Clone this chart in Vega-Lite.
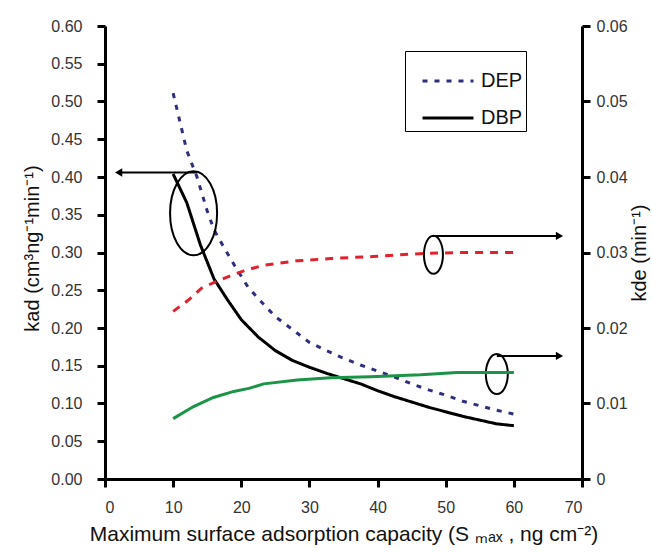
{
  "$schema": "https://vega.github.io/schema/vega-lite/v6.json",
  "width": 477,
  "height": 453,
  "autosize": {"type": "none"},
  "padding": {"left": 105, "top": 26, "right": 70, "bottom": 73},
  "background": "white",
  "config": {
    "view": {"stroke": null},
    "font": "Liberation Sans",
    "axis": {
      "grid": false,
      "domainColor": "black",
      "domainWidth": 3,
      "ticks": true,
      "tickSize": 8,
      "tickWidth": 3,
      "tickColor": "black",
      "labelFont": "Liberation Sans",
      "labelFontSize": 16,
      "labelColor": "#333333",
      "titleFont": "Liberation Sans",
      "titleFontSize": 20,
      "titleFontWeight": "normal",
      "titleColor": "#111111"
    }
  },
  "datasets": {
    "curves": [
      {"s": 10, "v": 0.511, "series": "DEP", "param": "kad"},
      {"s": 12, "v": 0.435, "series": "DEP", "param": "kad"},
      {"s": 13.5, "v": 0.4, "series": "DEP", "param": "kad"},
      {"s": 15, "v": 0.355, "series": "DEP", "param": "kad"},
      {"s": 16, "v": 0.33, "series": "DEP", "param": "kad"},
      {"s": 17.5, "v": 0.306, "series": "DEP", "param": "kad"},
      {"s": 19, "v": 0.283, "series": "DEP", "param": "kad"},
      {"s": 21, "v": 0.254, "series": "DEP", "param": "kad"},
      {"s": 23, "v": 0.234, "series": "DEP", "param": "kad"},
      {"s": 25, "v": 0.215, "series": "DEP", "param": "kad"},
      {"s": 27.5, "v": 0.198, "series": "DEP", "param": "kad"},
      {"s": 30, "v": 0.181, "series": "DEP", "param": "kad"},
      {"s": 32.5, "v": 0.17, "series": "DEP", "param": "kad"},
      {"s": 35, "v": 0.16, "series": "DEP", "param": "kad"},
      {"s": 37.5, "v": 0.151, "series": "DEP", "param": "kad"},
      {"s": 40, "v": 0.143, "series": "DEP", "param": "kad"},
      {"s": 42.5, "v": 0.135, "series": "DEP", "param": "kad"},
      {"s": 45, "v": 0.126, "series": "DEP", "param": "kad"},
      {"s": 47.5, "v": 0.118, "series": "DEP", "param": "kad"},
      {"s": 50, "v": 0.111, "series": "DEP", "param": "kad"},
      {"s": 52.5, "v": 0.103, "series": "DEP", "param": "kad"},
      {"s": 55, "v": 0.097, "series": "DEP", "param": "kad"},
      {"s": 57.5, "v": 0.091, "series": "DEP", "param": "kad"},
      {"s": 60, "v": 0.086, "series": "DEP", "param": "kad"},
      {"s": 10, "v": 0.404, "series": "DBP", "param": "kad"},
      {"s": 12, "v": 0.366, "series": "DBP", "param": "kad"},
      {"s": 14, "v": 0.31, "series": "DBP", "param": "kad"},
      {"s": 16, "v": 0.265, "series": "DBP", "param": "kad"},
      {"s": 18, "v": 0.237, "series": "DBP", "param": "kad"},
      {"s": 20, "v": 0.211, "series": "DBP", "param": "kad"},
      {"s": 22.5, "v": 0.188, "series": "DBP", "param": "kad"},
      {"s": 25, "v": 0.17, "series": "DBP", "param": "kad"},
      {"s": 27.5, "v": 0.157, "series": "DBP", "param": "kad"},
      {"s": 30, "v": 0.148, "series": "DBP", "param": "kad"},
      {"s": 32.5, "v": 0.14, "series": "DBP", "param": "kad"},
      {"s": 35, "v": 0.133, "series": "DBP", "param": "kad"},
      {"s": 37.5, "v": 0.126, "series": "DBP", "param": "kad"},
      {"s": 40, "v": 0.117, "series": "DBP", "param": "kad"},
      {"s": 42.5, "v": 0.109, "series": "DBP", "param": "kad"},
      {"s": 45, "v": 0.102, "series": "DBP", "param": "kad"},
      {"s": 47.5, "v": 0.095, "series": "DBP", "param": "kad"},
      {"s": 50, "v": 0.089, "series": "DBP", "param": "kad"},
      {"s": 52.5, "v": 0.083, "series": "DBP", "param": "kad"},
      {"s": 55, "v": 0.078, "series": "DBP", "param": "kad"},
      {"s": 57.5, "v": 0.073, "series": "DBP", "param": "kad"},
      {"s": 60, "v": 0.0706, "series": "DBP", "param": "kad"},
      {"s": 10, "v": 0.0222, "series": "DEP", "param": "kde"},
      {"s": 12.25, "v": 0.0237, "series": "DEP", "param": "kde"},
      {"s": 14.2, "v": 0.0253, "series": "DEP", "param": "kde"},
      {"s": 16.2, "v": 0.0261, "series": "DEP", "param": "kde"},
      {"s": 18.6, "v": 0.027, "series": "DEP", "param": "kde"},
      {"s": 20.8, "v": 0.0277, "series": "DEP", "param": "kde"},
      {"s": 23.3, "v": 0.0283, "series": "DEP", "param": "kde"},
      {"s": 28.2, "v": 0.0289, "series": "DEP", "param": "kde"},
      {"s": 33.1, "v": 0.0292, "series": "DEP", "param": "kde"},
      {"s": 40, "v": 0.0295, "series": "DEP", "param": "kde"},
      {"s": 47, "v": 0.0299, "series": "DEP", "param": "kde"},
      {"s": 53, "v": 0.03, "series": "DEP", "param": "kde"},
      {"s": 60, "v": 0.03, "series": "DEP", "param": "kde"},
      {"s": 10, "v": 0.008, "series": "DBP", "param": "kde"},
      {"s": 13, "v": 0.0096, "series": "DBP", "param": "kde"},
      {"s": 15.9, "v": 0.0108, "series": "DBP", "param": "kde"},
      {"s": 18.9, "v": 0.0116, "series": "DBP", "param": "kde"},
      {"s": 21.1, "v": 0.012, "series": "DBP", "param": "kde"},
      {"s": 23.3, "v": 0.0126, "series": "DBP", "param": "kde"},
      {"s": 28.2, "v": 0.0131, "series": "DBP", "param": "kde"},
      {"s": 33.1, "v": 0.0134, "series": "DBP", "param": "kde"},
      {"s": 39, "v": 0.01355, "series": "DBP", "param": "kde"},
      {"s": 46.3, "v": 0.0138, "series": "DBP", "param": "kde"},
      {"s": 51.7, "v": 0.0141, "series": "DBP", "param": "kde"},
      {"s": 60, "v": 0.0141, "series": "DBP", "param": "kde"}
    ],
    "ellipses": [
      {"id": "A", "s": 13.0, "v": 0.352},
      {"id": "B", "s": 48.2, "v": 0.297},
      {"id": "C", "s": 57.5, "v": 0.139}
    ],
    "arrows": [
      {"id": "A", "s": 13.5, "s2": 2.0, "v": 0.406, "dir": "left"},
      {"id": "B", "s": 48.1, "s2": 66.7, "v": 0.322, "dir": "right"},
      {"id": "C", "s": 57.5, "s2": 66.7, "v": 0.163, "dir": "right"}
    ]
  },
  "layer": [
    {
      "encoding": {
        "x": {
          "field": "s", "type": "quantitative",
          "scale": {"domain": [0, 70], "nice": false, "zero": false},
          "axis": {
            "title": "Maximum surface adsorption capacity (S ₘₐₓ , ng cm⁻²)",
            "values": [0, 10, 20, 30, 40, 50, 60, 70],
            "labelPadding": 12,
            "titleFontSize": 21,
            "titlePadding": 8
          }
        },
        "y": {
          "field": "v", "type": "quantitative",
          "scale": {"domain": [0, 0.6], "nice": false},
          "axis": {
            "title": "kad (cm³ng⁻¹min⁻¹)",
            "values": [0, 0.05, 0.1, 0.15, 0.2, 0.25, 0.3, 0.35, 0.4, 0.45, 0.5, 0.55, 0.6],
            "format": ".2f",
            "labelPadding": 15,
            "titleX": -63,
            "titleY": 222
          }
        }
      },
      "layer": [
        {
          "data": {"name": "curves"},
          "transform": [{"filter": "datum.param == 'kad'"}],
          "mark": {"type": "line", "strokeWidth": 3},
          "encoding": {
            "color": {
              "field": "series", "type": "nominal",
              "scale": {"domain": ["DEP", "DBP"], "range": ["#2e2e80", "#000000"]},
              "legend": {
                "orient": "none", "legendX": 300, "legendY": 25,
                "title": null, "strokeColor": "black", "padding": 3,
                "rowPadding": 0,
                "symbolType": "stroke", "symbolSize": 2600, "symbolStrokeWidth": 3,
                "symbolOffset": 13,
                "labelFontSize": 20, "labelColor": "#111111", "labelOffset": 6,
                "labelFont": "Liberation Sans"
              }
            },
            "strokeDash": {
              "field": "series", "type": "nominal",
              "scale": {"domain": ["DEP", "DBP"], "range": [[5, 7], [1, 0]]}
            }
          }
        },
        {
          "data": {"name": "ellipses"},
          "transform": [{"filter": "datum.id == 'A'"}],
          "mark": {"type": "point", "filled": false, "stroke": "black", "strokeWidth": 2, "opacity": 1,
                   "size": 7056, "shape": "M -0.56 0 A 0.56 1 0 1 0 0.56 0 A 0.56 1 0 1 0 -0.56 0 Z"}
        },
        {
          "data": {"name": "ellipses"},
          "transform": [{"filter": "datum.id == 'B'"}],
          "mark": {"type": "point", "filled": false, "stroke": "black", "strokeWidth": 2, "opacity": 1,
                   "size": 1444, "shape": "M -0.5 0 A 0.5 1 0 1 0 0.5 0 A 0.5 1 0 1 0 -0.5 0 Z"}
        },
        {
          "data": {"name": "ellipses"},
          "transform": [{"filter": "datum.id == 'C'"}],
          "mark": {"type": "point", "filled": false, "stroke": "black", "strokeWidth": 2, "opacity": 1,
                   "size": 1600, "shape": "M -0.55 0 A 0.55 1 0 1 0 0.55 0 A 0.55 1 0 1 0 -0.55 0 Z"}
        },
        {
          "data": {"name": "arrows"},
          "mark": {"type": "rule", "color": "black", "strokeWidth": 2},
          "encoding": {"x2": {"field": "s2"}}
        },
        {
          "data": {"name": "arrows"},
          "mark": {"type": "point", "filled": true, "color": "black", "opacity": 1, "size": 70},
          "encoding": {
            "x": {"field": "s2", "type": "quantitative"},
            "shape": {
              "field": "dir", "type": "nominal",
              "scale": {"domain": ["left", "right"], "range": ["triangle-left", "triangle-right"]},
              "legend": null
            }
          }
        }
      ]
    },
    {
      "data": {"name": "curves"},
      "encoding": {
        "x": {"field": "s", "type": "quantitative", "scale": {"domain": [0, 70], "nice": false, "zero": false}},
        "y": {
          "field": "v", "type": "quantitative",
          "scale": {"domain": [0, 0.06], "nice": false},
          "axis": {
            "orient": "right",
            "title": "kde (min⁻¹)",
            "titleAngle": 270,
            "values": [0, 0.01, 0.02, 0.03, 0.04, 0.05, 0.06],
            "format": ".2~f",
            "labelPadding": 6,
            "titlePadding": 22
          }
        }
      },
      "layer": [
        {
          "transform": [{"filter": "datum.param == 'kde' && datum.series == 'DEP'"}],
          "mark": {"type": "line", "color": "#e3202d", "strokeWidth": 3, "strokeDash": [8, 7]}
        },
        {
          "transform": [{"filter": "datum.param == 'kde' && datum.series == 'DBP'"}],
          "mark": {"type": "line", "color": "#1b9447", "strokeWidth": 3}
        }
      ]
    }
  ],
  "resolve": {"scale": {"y": "independent"}}
}
